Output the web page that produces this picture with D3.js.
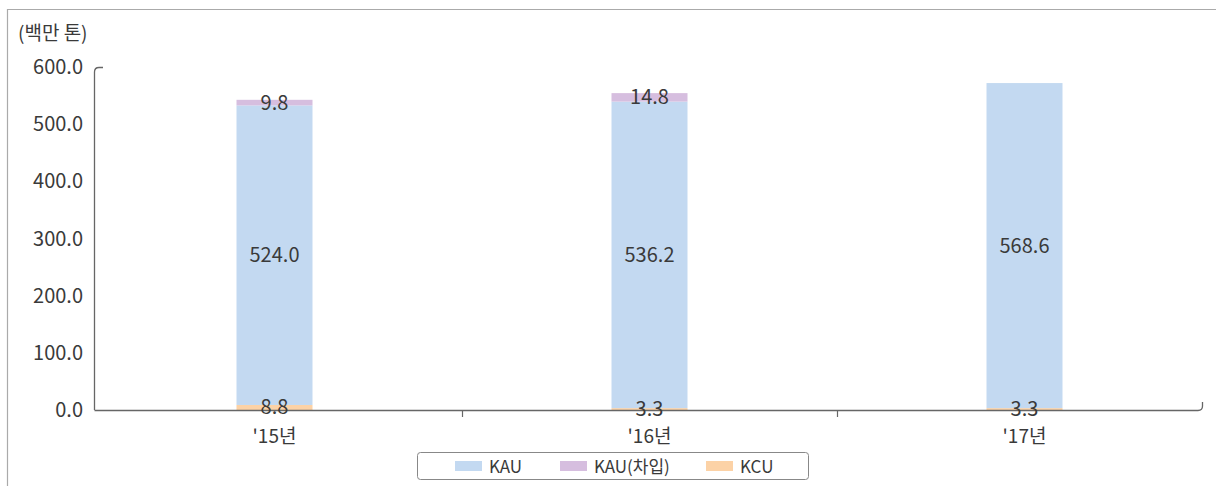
<!doctype html>
<html>
<head>
<meta charset="UTF-8">
<script src="https://d3js.org/d3.v7.min.js"></script>
<style>
  body { margin: 0; background: #fff; }
  text { font-family: "Noto Sans CJK KR", "Noto Sans", sans-serif; fill: #3a3a3a; }
</style>
</head>
<body>
<svg id="chart" width="1216" height="486"></svg>
<script>
var years = ["'15년", "'16년", "'17년"];
var kcu = [8.8, 3.3, 3.3];
var kau = [524.0, 536.2, 568.6];
var kauBorrow = [9.8, 14.8, 0];
var yTicks = [0, 100, 200, 300, 400, 500, 600];
var seriesNames = ["KAU", "KAU(차입)", "KCU"];
var colors = { "KCU": "#fcd2a6", "KAU": "#c3d9f1", "KAU(차입)": "#d6bedf" };

var svg = d3.select("#chart");

// frame
svg.append("path").attr("d", "M7.5,486 V9.5 H1216")
  .attr("fill", "none").attr("stroke", "#aaa").attr("stroke-width", 1.2);

var x = d3.scaleBand().domain(years).range([87, 1212]);
var y = d3.scaleLinear().domain([0, 600]).range([410, 67]);
var barW = 76;

// unit
svg.append("text").attr("x", 18).attr("y", 40).attr("font-size", 19).text("(백만 톤)");

// y axis labels
svg.selectAll(".ytick").data(yTicks).enter().append("text")
  .attr("x", 83).attr("y", function (d) { return y(d) + 7; })
  .attr("text-anchor", "end").attr("font-size", 20)
  .text(function (d) { return d.toFixed(1); });

// stacked data
var rows = years.map(function (yr, i) {
  return { year: yr, "KCU": kcu[i], "KAU": kau[i], "KAU(차입)": kauBorrow[i] };
});
var stack = d3.stack().keys(["KCU", "KAU", "KAU(차입)"])(rows);

var groups = svg.selectAll(".layer").data(stack).enter().append("g")
  .attr("fill", function (d) { return colors[d.key]; });
groups.selectAll("rect").data(function (d) { return d; }).enter().append("rect")
  .attr("x", function (d) { return x(d.data.year) + x.bandwidth() / 2 - barW / 2; })
  .attr("width", barW)
  .attr("y", function (d) { return y(d[1]); })
  .attr("height", function (d) { return y(d[0]) - y(d[1]); });

// axes lines
var axisColor = "#666";
svg.append("path").attr("d", "M94.5,410 V72 Q94.5,67.5 99,67.5 H103")
  .attr("fill", "none").attr("stroke", axisColor).attr("stroke-width", 1.3);
svg.append("path").attr("d", "M94.5,410.5 H1198 Q1202.5,410.5 1202.5,406 V402")
  .attr("fill", "none").attr("stroke", axisColor).attr("stroke-width", 1.3);
svg.selectAll(".xtick").data(years.slice(1)).enter().append("line")
  .attr("x1", function (d) { return x(d) + 0.5; })
  .attr("x2", function (d) { return x(d) + 0.5; })
  .attr("y1", 410.5).attr("y2", 417)
  .attr("stroke", axisColor).attr("stroke-width", 1.2);

// value labels
stack.forEach(function (layer) {
  layer.forEach(function (d) {
    var v = d[1] - d[0];
    if (v <= 0) return;
    svg.append("text")
      .attr("x", x(d.data.year) + x.bandwidth() / 2)
      .attr("y", (y(d[0]) + y(d[1])) / 2 + 7)
      .attr("text-anchor", "middle").attr("font-size", 20)
      .text(v.toFixed(1));
  });
});

// category labels
svg.selectAll(".xlab").data(years).enter().append("text")
  .attr("x", function (d) { return x(d) + x.bandwidth() / 2; })
  .attr("y", 443).attr("text-anchor", "middle").attr("font-size", 19)
  .text(function (d) { return d; });

// legend
svg.append("rect").attr("x", 417.5).attr("y", 452.5).attr("width", 391).attr("height", 27)
  .attr("rx", 3).attr("fill", "#fff").attr("stroke", "#888");
var legX = [455, 560, 706];
seriesNames.forEach(function (s, i) {
  svg.append("rect").attr("x", legX[i]).attr("y", 461).attr("width", 27).attr("height", 10)
    .attr("fill", colors[s]);
  svg.append("text").attr("x", legX[i] + 34).attr("y", 472.5).attr("font-size", 17).text(s);
});
</script>
</body>
</html>
